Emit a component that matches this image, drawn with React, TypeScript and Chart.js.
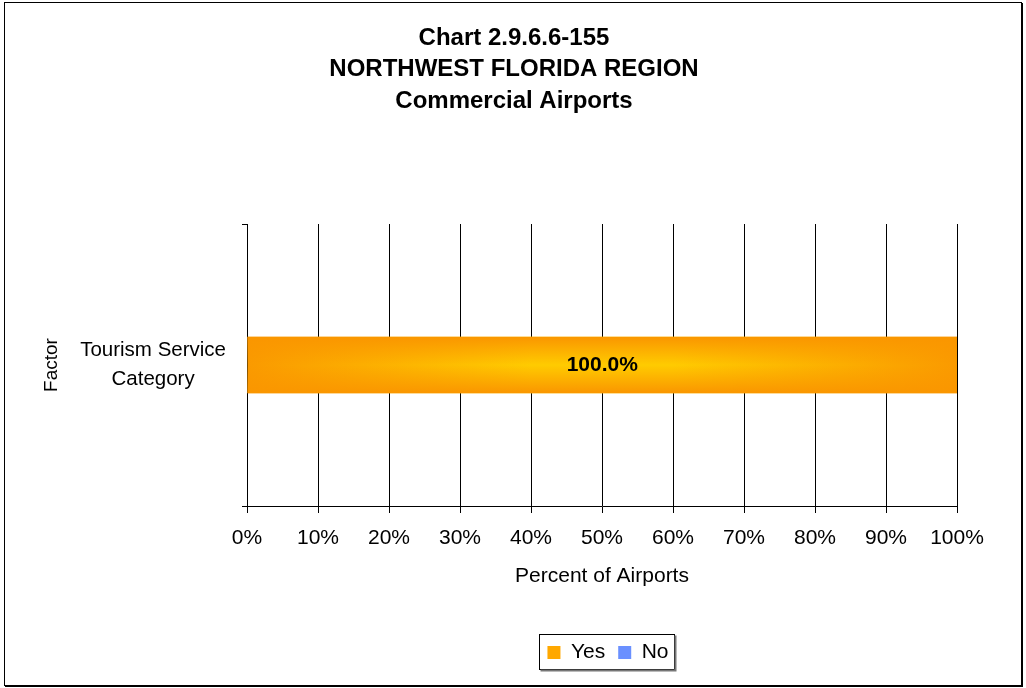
import React, { useEffect, useRef } from "react";
import { Chart, registerables } from "chart.js";

Chart.register(...registerables);

const titleLines = ["Chart 2.9.6.6-155", "NORTHWEST FLORIDA REGION", "Commercial Airports"];
const categories = [["Tourism Service", "Category"]];
const seriesNames = ["Yes", "No"];
const yesValues = [100];
const noValues = [0];
const xTitle = "Percent of Airports";
const yTitle = "Factor";

const FONT = "'Liberation Sans', Arial, sans-serif";

const framePlugin = {
  id: "frame",
  beforeDraw(chart: any) {
    const c = chart.ctx;
    c.save();
    c.fillStyle = "#fff";
    c.fillRect(0, 0, chart.width, chart.height);
    c.strokeStyle = "#000";
    c.lineWidth = 1;
    c.strokeRect(4.5, 2.5, 1017, 683);
    c.lineWidth = 2;
    c.beginPath();
    c.moveTo(1022, 3);
    c.lineTo(1022, 686);
    c.lineTo(5, 686);
    c.stroke();
    c.restore();
  },
};

const titlePlugin = {
  id: "customTitle",
  afterDraw(chart: any) {
    const c = chart.ctx;
    c.save();
    c.font = `bold 24px ${FONT}`;
    c.fillStyle = "#000";
    c.textAlign = "center";
    c.textBaseline = "middle";
    titleLines.forEach((line, i) => {
      c.fillText(line, chart.width / 2 + 1, 38 + i * 31.5);
    });
    c.restore();
  },
};

const barShadePlugin = {
  id: "barShade",
  afterDatasetsDraw(chart: any) {
    const c = chart.ctx;
    chart.data.datasets.forEach((ds: any, di: number) => {
      const meta = chart.getDatasetMeta(di);
      meta.data.forEach((el: any, i: number) => {
        const v = ds.data[i];
        if (!v) return;
        const l = Math.min(el.x, el.base);
        const r = Math.max(el.x, el.base);
        const t = el.y - el.height / 2;
        const b = el.y + el.height / 2;
        const g = c.createLinearGradient(0, t, 0, b);
        const col = di === 0 ? "250,150,0" : "70,110,240";
        g.addColorStop(0, `rgba(${col},1)`);
        g.addColorStop(0.5, `rgba(${col},0)`);
        g.addColorStop(1, `rgba(${col},1)`);
        c.save();
        c.fillStyle = g;
        c.fillRect(l, t, r - l, b - t);
        c.font = `bold 21px ${FONT}`;
        c.fillStyle = "#000";
        c.textAlign = "center";
        c.textBaseline = "middle";
        c.fillText(v.toFixed(1) + "%", (l + r) / 2, el.y);
        c.restore();
      });
    });
  },
};

const legendBoxPlugin = {
  id: "legendBox",
  afterLayout(chart: any) {
    const lg = chart.legend;
    if (lg) {
      lg.left += 6;
      lg.right += 6;
    }
  },
  afterDraw(chart: any) {
    const lg = chart.legend;
    if (!lg || !lg.legendHitBoxes || !lg.legendHitBoxes.length) return;
    const boxes = lg.legendHitBoxes;
    let l = Infinity, r = -Infinity, t = Infinity, b = -Infinity;
    boxes.forEach((h: any) => {
      l = Math.min(l, h.left);
      r = Math.max(r, h.left + h.width);
      t = Math.min(t, h.top);
      b = Math.max(b, h.top + h.height);
    });
    const c = chart.ctx;
    c.save();
    c.strokeStyle = "#000";
    c.lineWidth = 1;
    const x0 = Math.round(l - 8) + 0.5;
    const y0 = Math.round((t + b) / 2 - 19) + 0.5;
    const x1 = Math.round(r + 5) + 0.5;
    const y1 = y0 + 35;
    c.strokeRect(x0, y0, x1 - x0, y1 - y0);
    c.strokeStyle = "#777";
    c.lineWidth = 2;
    c.beginPath();
    c.moveTo(x1 + 1, y0 + 1);
    c.lineTo(x1 + 1, y1 + 1);
    c.lineTo(x0 + 1, y1 + 1);
    c.stroke();
    c.restore();
  },
};

function hGradient(chart: any, edge: string, mid: string) {
  const a = chart.chartArea;
  if (!a) return edge;
  const g = chart.ctx.createLinearGradient(a.left, 0, a.right, 0);
  g.addColorStop(0, edge);
  g.addColorStop(0.4, mid);
  g.addColorStop(0.6, mid);
  g.addColorStop(1, edge);
  return g;
}

export default function App() {
  const ref = useRef<HTMLCanvasElement>(null);
  useEffect(() => {
    if (!ref.current) return;
    const chart = new Chart(ref.current, {
      type: "bar",
      data: {
        labels: categories,
        datasets: [
          {
            label: seriesNames[0],
            data: yesValues,
            backgroundColor: (ctx: any) => hGradient(ctx.chart, "#FA9A00", "#FFCB00"),
            borderWidth: 0,
            barPercentage: 0.2,
            categoryPercentage: 1,
          },
          {
            label: seriesNames[1],
            data: noValues,
            backgroundColor: (ctx: any) => hGradient(ctx.chart, "#4A70F0", "#8FA8FF"),
            borderWidth: 0,
            barPercentage: 0.2,
            categoryPercentage: 1,
          },
        ],
      },
      options: {
        indexAxis: "y",
        animation: false,
        responsive: false,
        events: [],
        layout: { padding: { left: 40, right: 69, top: 224, bottom: 15 } },
        scales: {
          x: {
            stacked: true,
            min: 0,
            max: 100,
            afterFit: (s: any) => {
              s.height = 123;
            },
            ticks: {
              stepSize: 10,
              callback: (v: any) => v + "%",
              color: "#000",
              font: { size: 21, family: FONT },
              padding: 13,
              maxRotation: 0,
            },
            grid: { color: "#000", tickLength: 7, lineWidth: 1 },
            border: { color: "#000" },
            title: {
              display: true,
              text: xTitle,
              color: "#000",
              font: { size: 21, family: FONT },
              padding: { top: 4, bottom: 40 },
            },
          },
          y: {
            stacked: true,
            offset: true,
            afterFit: (s: any) => {
              s.width = 207;
            },
            grid: { offset: true, drawOnChartArea: false, tickLength: 5, color: "#000" },
            border: { color: "#000" },
            ticks: {
              color: "#000",
              font: { size: 20.5, family: FONT, lineHeight: 1.4 },
              padding: 16,
              crossAlign: "center",
            },
            title: {
              display: true,
              text: yTitle,
              color: "#000",
              font: { size: 19, family: FONT },
              padding: { top: 0, bottom: 4 },
            },
          },
        },
        plugins: {
          title: { display: false },
          legend: {
            position: "bottom",
            fullSize: false,
            labels: {
              color: "#000",
              font: { size: 21, family: FONT },
              boxWidth: 13,
              boxHeight: 13,
              padding: 13,
              generateLabels: () => [
                { text: seriesNames[0], fillStyle: "#FFA800", strokeStyle: "#FFA800", lineWidth: 0, datasetIndex: 0, fontColor: "#000" },
                { text: seriesNames[1], fillStyle: "#6A90FF", strokeStyle: "#6A90FF", lineWidth: 0, datasetIndex: 1, fontColor: "#000" },
              ],
            },
          },
          tooltip: { enabled: false },
        },
      },
      plugins: [framePlugin, titlePlugin, barShadePlugin, legendBoxPlugin],
    } as any);
    return () => chart.destroy();
  }, []);
  return (
    <div style={{ position: "absolute", left: 0, top: 0, width: 1026, height: 688 }}>
      <canvas ref={ref} width={1026} height={688} style={{ width: 1026, height: 688 }} />
    </div>
  );
}
